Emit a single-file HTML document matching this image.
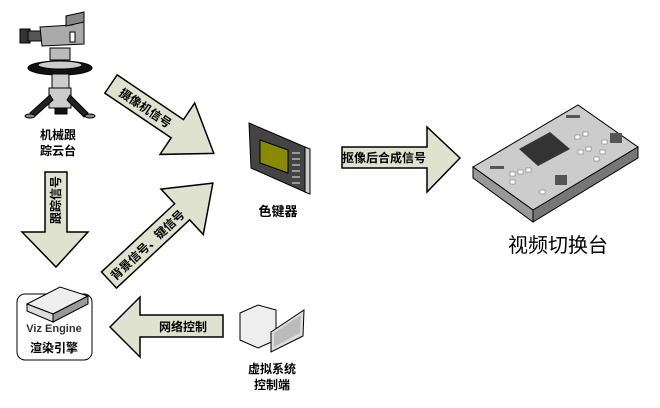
<!DOCTYPE html>
<html><head><meta charset="utf-8"><style>
html,body{margin:0;padding:0;background:#fff;}
svg{display:block;}
text{font-family:"Liberation Sans","Noto Sans CJK SC",sans-serif;}
</style></head><body>
<svg width="660" height="408" viewBox="0 0 660 408" xmlns="http://www.w3.org/2000/svg">
<g fill="#dfe2cf" stroke="#000" stroke-width="1.5" stroke-linejoin="miter">
  <g transform="translate(111,84) rotate(34)">
    <polygon points="0,-11 80,-11 80,-31 124,0 80,31 80,11 0,11"/>
    <text x="42" y="5" font-size="12" font-weight="bold" text-anchor="middle" fill="#000" stroke="none">摄像机信号</text>
  </g>
  <g transform="translate(109,280) rotate(-43)">
    <polygon points="0,-11 100,-11 100,-31 142,0 100,31 100,11 0,11"/>
    <text x="52" y="5" font-size="12" font-weight="bold" text-anchor="middle" fill="#000" stroke="none">背景信号、键信号</text>
  </g>
  <polygon points="45,172 67,172 67,232 88,232 56,267 22,232 45,232"/>
  <polygon points="223,315 223,337 140,337 140,357 110,327 140,297 140,315"/>
  <polygon points="342,147 427,147 427,127 460,158 427,192 427,168 342,168"/>
</g>
<text transform="translate(60,200) rotate(-90)" font-size="12" font-weight="bold" text-anchor="middle">跟踪信号</text>
<text x="183" y="331" font-size="12" font-weight="bold" text-anchor="middle">网络控制</text>
<text x="384" y="162" font-size="12" font-weight="bold" text-anchor="middle">抠像后合成信号</text>

<!-- camera -->
<g stroke="#000" stroke-width="1">
  <rect x="20" y="29" width="10" height="14" fill="#333"/>
  <rect x="28" y="31" width="14" height="10" fill="#555"/>
  <polygon points="40,27 72,25 84,20 84,44 42,46" fill="#aaa"/>
  <polygon points="66,16 84,12 84,22 66,26" fill="#888"/>
  <rect x="70" y="32" width="5" height="10" fill="#fff"/>
  <rect x="50" y="48" width="20" height="12" fill="#bbb"/>
  <ellipse cx="60" cy="68" rx="32" ry="7" fill="#111"/>
  <ellipse cx="60" cy="65" rx="22" ry="4" fill="#ccc"/>
  <rect x="52" y="74" width="17" height="15" fill="#ccc"/>
  <rect x="49" y="88" width="22" height="20" fill="#ccc"/>
  <polygon points="50,95 30,113 34,117 53,100" fill="#222"/>
  <polygon points="70,95 88,113 84,117 67,100" fill="#222"/>
  <rect x="55" y="108" width="12" height="6" fill="#111"/>
  <ellipse cx="30" cy="116" rx="5" ry="2" fill="#888"/>
  <ellipse cx="90" cy="116" rx="5" ry="2" fill="#888"/>
</g>
<text x="58" y="139" font-size="12" font-weight="bold" text-anchor="middle">机械跟</text>
<text x="58" y="155" font-size="12" font-weight="bold" text-anchor="middle">踪云台</text>

<!-- keyer -->
<polygon points="249,123 305,147 305,192 251,168" fill="#444" stroke="#000"/>
<polygon points="305,147 310,149 310,194 305,192" fill="#ccc" stroke="#000"/>
<polygon points="260,140 288,150 288,173 260,163" fill="#8a8a00" stroke="#000"/>
<g fill="#999"><rect x="292" y="152" width="8" height="2"/><rect x="292" y="158" width="8" height="2"/><rect x="292" y="164" width="8" height="2"/><rect x="292" y="170" width="8" height="2"/><rect x="292" y="176" width="8" height="2"/><rect x="292" y="182" width="8" height="2"/></g>
<text x="278" y="216" font-size="13" font-weight="bold" text-anchor="middle">色键器</text>

<!-- switcher -->
<polygon points="473,167 578,105 638,147 533,210" fill="#ccc" stroke="#000"/>
<polygon points="473,167 533,210 533,222 473,178" fill="#999" stroke="#000"/>
<polygon points="533,210 638,147 638,158 533,222" fill="#777" stroke="#000"/>
<polygon points="519,149 550,132 570,149 538,166" fill="#333"/>
<g fill="#fff" stroke="#666" stroke-width="0.5">
  <rect x="510" y="172" width="5" height="4"/><rect x="518" y="170" width="5" height="4"/>
  <rect x="526" y="168" width="5" height="4"/><rect x="510" y="180" width="5" height="4"/>
  <rect x="578" y="150" width="5" height="4"/><rect x="586" y="147" width="5" height="4"/>
  <rect x="575" y="135" width="5" height="4"/><rect x="583" y="132" width="5" height="4"/>
  <rect x="540" y="190" width="5" height="4"/><rect x="600" y="150" width="5" height="4"/>
  <rect x="594" y="157" width="5" height="4"/><rect x="602" y="140" width="5" height="4"/>
</g>
<g fill="#555"><rect x="490" y="166" width="14" height="3"/><rect x="566" y="115" width="14" height="3"/><rect x="555" y="175" width="12" height="10"/><rect x="610" y="133" width="12" height="10"/></g>
<text x="558" y="252" font-size="20" text-anchor="middle">视频切换台</text>

<!-- server -->
<rect x="17" y="294" width="75" height="66" rx="8" fill="#fff" stroke="#000"/>
<polygon points="27,304 60,287 88,296 53,314" fill="#eee" stroke="#000"/>
<polygon points="27,304 53,314 53,322 27,311" fill="#ddd" stroke="#000"/>
<polygon points="53,314 88,296 88,304 53,322" fill="#999" stroke="#000"/>
<text x="54" y="332" font-size="11" font-weight="bold" text-anchor="middle" fill="#333">Viz Engine</text>
<text x="54" y="352" font-size="12" font-weight="bold" text-anchor="middle">渲染引擎</text>

<!-- PC -->
<polygon points="240,313 258,305 276,310 276,340 258,348 240,340" fill="#eee" stroke="#000"/>
<polygon points="271,332 304,310 303,336 271,352" fill="#ddd" stroke="#000"/>
<polygon points="274,333 301,315 300,333 274,347" fill="#bbb"/>
<text x="272" y="373" font-size="12" font-weight="bold" text-anchor="middle">虚拟系统</text>
<text x="272" y="389" font-size="12" font-weight="bold" text-anchor="middle">控制端</text>
</svg>
</body></html>
